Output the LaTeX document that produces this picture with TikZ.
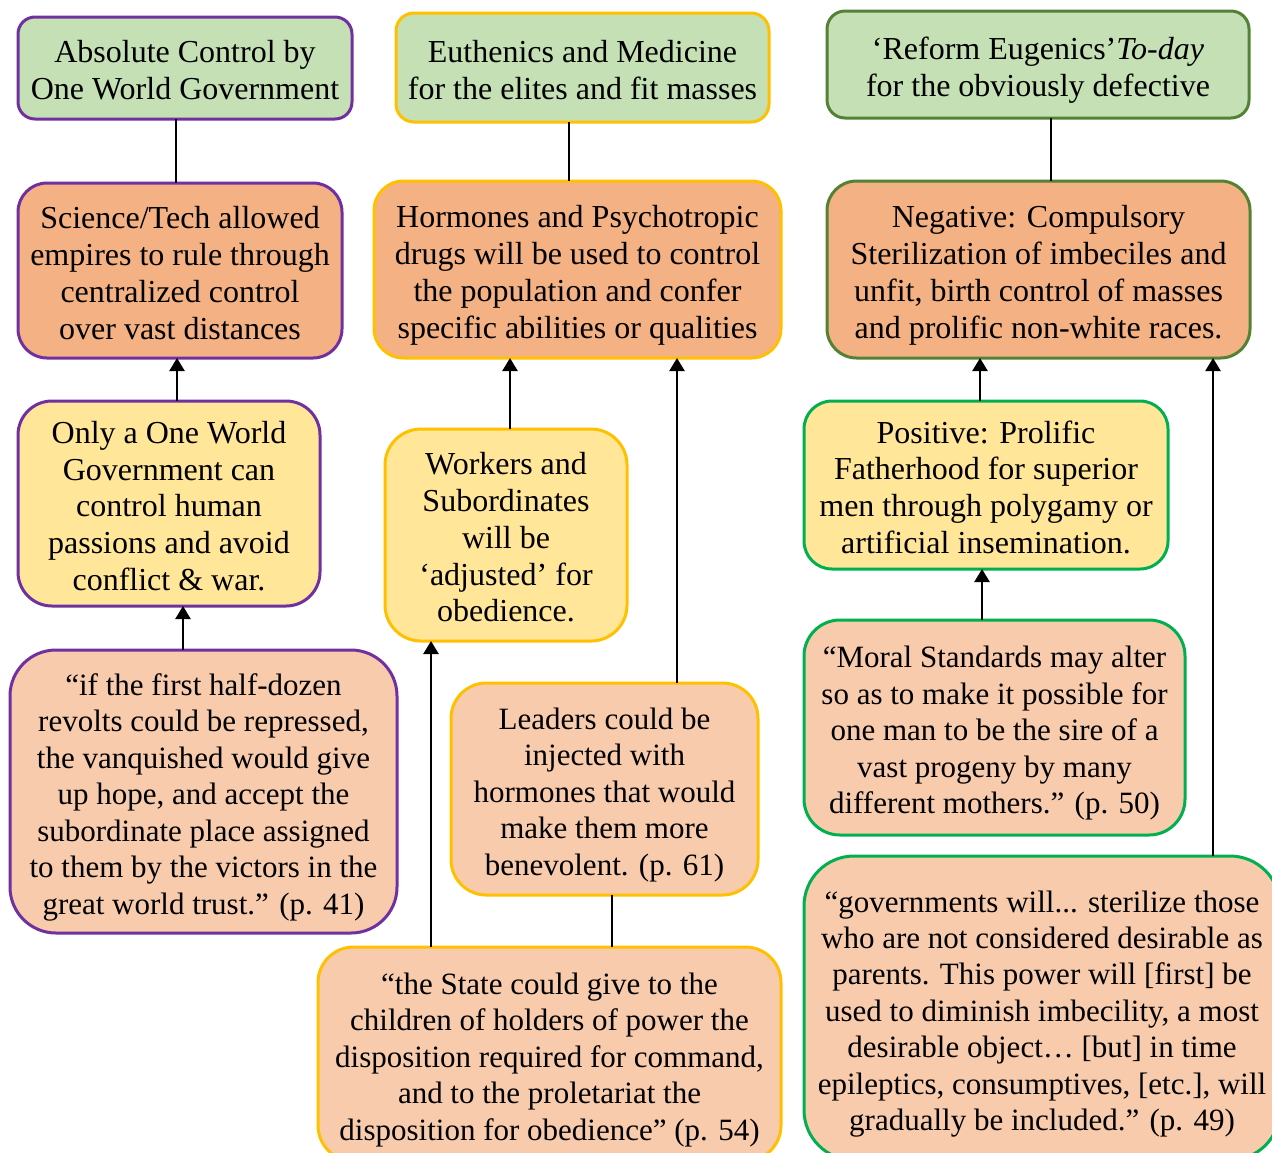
\documentclass[tikz,border=0pt]{standalone}
\usepackage{fontspec}
\setmainfont{Liberation Serif}
\usetikzlibrary{arrows.meta}
\definecolor{fillgreen}{HTML}{C5E0B4}
\definecolor{fillorange}{HTML}{F4B183}
\definecolor{fillyellow}{HTML}{FFE699}
\definecolor{fillpeach}{HTML}{F8CBAD}
\definecolor{edgepurple}{HTML}{7030A0}
\definecolor{edgegold}{HTML}{FFC000}
\definecolor{edgeolive}{HTML}{548235}
\definecolor{edgegreen}{HTML}{00B050}
% centred block of lines, set a little low inside its box
\newcommand\lines[1]{\raisebox{-3pt}[\height][\depth]{\begin{tabular}{@{}c@{}}#1\end{tabular}}}
\begin{document}
\begin{tikzpicture}[x=0.5pt,y=-0.5pt,
  box/.style={rectangle, line width=1.5pt, inner sep=0pt, outer sep=0pt, text=black},
  head/.style={box, font=\fontsize{16}{18.4}\selectfont},
  quote/.style={box, font=\fontsize{15.5}{18.2}\selectfont},
  link/.style={line width=1.2pt, draw=black},
  arr/.style={link, -{Triangle[length=6.5pt,width=7.5pt]}}]
\useasboundingbox (0,0) rectangle (1272,1152);
\clip (0,0) rectangle (1272,1152);

% left column
\node[head, fill=fillgreen, draw=edgepurple, minimum width=167pt, minimum height=51pt, rounded corners=8.5pt] (a1) at (185,68)
  {\lines{Absolute Control by\\One World Government}};
\node[head, fill=fillorange, draw=edgepurple, minimum width=162pt, minimum height=87.5pt, rounded corners=14.5pt] (a2) at (180,270.5)
  {\lines{Science/Tech allowed\\empires to rule through\\centralized control\\over vast distances}};
\node[head, fill=fillyellow, draw=edgepurple, minimum width=151pt, minimum height=102.5pt, rounded corners=17pt] (a3) at (169,503.5)
  {\lines{Only a One World\\Government can\\control human\\passions and avoid\\conflict \& war.}};
\node[quote, fill=fillpeach, draw=edgepurple, minimum width=193.5pt, minimum height=141.5pt, rounded corners=23pt] (a4) at (203.5,791.5)
  {\lines{“if the first half-dozen\\revolts could be repressed,\\the vanquished would give\\up hope, and accept the\\subordinate place assigned\\to them by the victors in the\\great world trust.” (p. 41)}};

% middle column
\node[head, fill=fillgreen, draw=edgegold, minimum width=186.5pt, minimum height=54.5pt, rounded corners=9pt] (b1) at (582.5,67.5)
  {\lines{Euthenics and Medicine\\for the elites and fit masses}};
\node[head, fill=fillorange, draw=edgegold, minimum width=203.5pt, minimum height=88.5pt, rounded corners=14.75pt] (b2) at (577.5,269.5)
  {\lines{Hormones and Psychotropic\\drugs will be used to control\\the population and confer\\specific abilities or qualities}};
\node[head, fill=fillyellow, draw=edgegold, minimum width=121pt, minimum height=106pt, rounded corners=18pt] (b3) at (506,535)
  {\lines{Workers and\\Subordinates\\will be\\‘adjusted’ for\\obedience.}};
\node[quote, fill=fillpeach, draw=edgegold, minimum width=153.5pt, minimum height=106pt, rounded corners=17.7pt] (b4) at (604.5,789)
  {\lines{Leaders could be\\injected with\\hormones that would\\make them more\\benevolent. (p. 61)}};
\node[quote, fill=fillpeach, draw=edgegold, minimum width=231.5pt, minimum height=107pt, rounded corners=17.8pt] (b5) at (549.5,1054)
  {\lines{“the State could give to the\\children of holders of power the\\disposition required for command,\\and to the proletariat the\\disposition for obedience” (p. 54)}};

% right column
\node[head, fill=fillgreen, draw=edgeolive, minimum width=211pt, minimum height=53.5pt, rounded corners=9pt] (c1) at (1038,64.5)
  {\lines{‘Reform Eugenics’\textit{To-day}\\for the obviously defective}};
\node[head, fill=fillorange, draw=edgeolive, minimum width=211.5pt, minimum height=88.5pt, rounded corners=14.75pt] (c2) at (1038.5,269.5)
  {\lines{Negative: Compulsory\\Sterilization of imbeciles and\\unfit, birth control of masses\\and prolific non-white races.}};
\node[head, fill=fillyellow, draw=edgegreen, minimum width=182pt, minimum height=84pt, rounded corners=14pt] (c3) at (986,485)
  {\lines{Positive: Prolific\\Fatherhood for superior\\men through polygamy or\\artificial insemination.}};
\node[quote, fill=fillpeach, draw=edgegreen, minimum width=190.5pt, minimum height=107.5pt, rounded corners=18pt] (c4) at (994.5,727.5)
  {\lines{“Moral Standards may alter\\so as to make it possible for\\one man to be the sire of a\\vast progeny by many\\different mothers.” (p. 50)}};
\node[quote, fill=fillpeach, draw=edgegreen, minimum width=238pt, minimum height=152pt, rounded corners=25pt] (c5) at (1042,1008)
  {\lines{“governments will... sterilize those\\who are not considered desirable as\\parents. This power will [first] be\\used to diminish imbecility, a most\\desirable object… [but] in time\\epileptics, consumptives, [etc.], will\\gradually be included.” (p. 49)}};

% connector columns
\coordinate (xa1) at (176,0);
\coordinate (xa3) at (177,0);
\coordinate (xa4) at (183,0);
\coordinate (xb1) at (569,0);
\coordinate (xb3) at (510,0);
\coordinate (xb4) at (677,0);
\coordinate (xb5) at (431,0);
\coordinate (xb6) at (612,0);
\coordinate (xc1) at (1051,0);
\coordinate (xc3) at (980,0);
\coordinate (xc4) at (982,0);
\coordinate (xc5) at (1213,0);

% connectors
\draw[link] (a1.south -| xa1) -- (a2.north -| xa1);
\draw[arr] (a3.north -| xa3) -- (a2.south -| xa3);
\draw[arr] (a4.north -| xa4) -- (a3.south -| xa4);

\draw[link] (b1.south -| xb1) -- (b2.north -| xb1);
\draw[arr] (b3.north -| xb3) -- (b2.south -| xb3);
\draw[arr] (b4.north -| xb4) -- (b2.south -| xb4);
\draw[arr] (b5.north -| xb5) -- (b3.south -| xb5);
\draw[link] (b5.north -| xb6) -- (b4.south -| xb6);

\draw[link] (c1.south -| xc1) -- (c2.north -| xc1);
\draw[arr] (c3.north -| xc3) -- (c2.south -| xc3);
\draw[arr] (c4.north -| xc4) -- (c3.south -| xc4);
\draw[arr] (c5.north -| xc5) -- (c2.south -| xc5);
\end{tikzpicture}
\end{document}
